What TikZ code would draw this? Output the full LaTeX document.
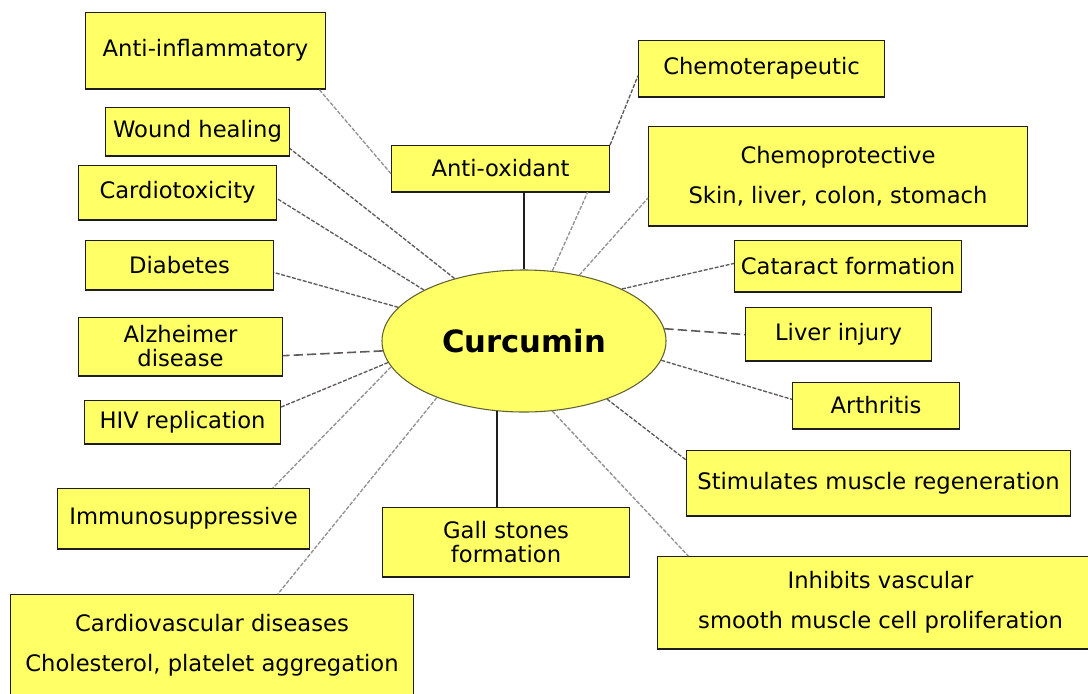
\documentclass[tikz,border=0pt]{standalone}
\usepackage{fontspec}
\setmainfont{DejaVu Sans}
\usetikzlibrary{shapes.geometric,calc}
\definecolor{boxfill}{RGB}{255,255,102}
\definecolor{edgec}{RGB}{30,30,30}
\definecolor{lnkdark}{RGB}{95,90,90}
\definecolor{lnklight}{RGB}{150,145,145}
\begin{document}
\begin{tikzpicture}[x=0.75pt,y=-0.75pt,
  box/.style={draw=edgec, line width=0.8pt, fill=boxfill, anchor=north west, inner sep=0pt, align=center, font=\fontsize{17}{18}\selectfont},
  wh/.style 2 args={minimum width=#1*0.75pt, minimum height=#2*0.75pt},
  link/.style={draw=lnkdark, line width=1pt, dash pattern=on 3pt off 1.2pt},
  lightlink/.style={draw=lnklight, line width=1pt, dash pattern=on 3pt off 1.2pt},
  longlink/.style={draw=lnkdark, line width=1.2pt, dash pattern=on 7pt off 3pt},
  solidlink/.style={draw=edgec, line width=1.2pt}]
\clip (0,0) rectangle (1088,693);
\fill[white] (0,0) rectangle (1088,693);

\node[draw=edgec!70!boxfill, line width=0.8pt, fill=boxfill, ellipse, minimum width=284*0.75pt, minimum height=142*0.75pt, inner sep=0pt, font=\bfseries\fontsize{23}{26}\selectfont] (cur) at (524,341) {Curcumin};

\node[box, wh={240}{76}] (ain) at (85,12) {Anti-inflammatory};
\node[box, wh={246}{56}] (chem) at (638,40) {Chemoterapeutic};
\node[box, wh={184}{48}] (wnd) at (105,107) {Wound healing};
\node[box, wh={218}{46}] (aox) at (391,145) {Anti-oxidant};
\node[box, wh={379}{99}] (chp) at (648,126) {Chemoprotective\\[12pt]Skin, liver, colon, stomach};
\node[box, wh={198}{54}] (ctx) at (78,165) {Cardiotoxicity};
\node[box, wh={227}{51}] (cat) at (734,240) {Cataract formation};
\node[box, wh={188}{49}] (dia) at (85,240) {Diabetes};
\node[box, wh={204}{58}] (alz) at (78,317) {Alzheimer\\disease};
\node[box, wh={186}{53}] (liv) at (745,307) {Liver injury};
\node[box, wh={196}{43}] (hiv) at (84,400) {HIV replication};
\node[box, wh={167}{46}] (art) at (792,382) {Arthritis};
\node[box, wh={384}{65}] (stim) at (686,450) {Stimulates muscle regeneration};
\node[box, wh={252}{60}] (imm) at (57,488) {Immunosuppressive};
\node[box, wh={247}{69}] (gall) at (382,507) {Gall stones\\formation};
\node[box, wh={446}{92}] (inh) at (657,556) {Inhibits vascular\\[12pt]smooth muscle cell proliferation};
\node[box, wh={403}{102}] (cvd) at (10,594) {Cardiovascular diseases\\[12pt]Cholesterol, platelet aggregation};

\foreach \n in {ain,chem,wnd,aox,chp,ctx,cat,dia,alz,liv,hiv,art,stim,imm,gall,inh,cvd}
  \draw[edgec, line width=2pt] (\n.south west) -- (\n.south east);

\draw[solidlink] (cur.north) -- (cur.north |- aox.south);
\draw[lightlink] (cur.68) -- ($(aox.south west)!0.898!(aox.south east)$);
\draw[lightlink] ($(aox.north west)!0.61!(aox.south west)$) -- ($(ain.south west)!0.97!(ain.south east)$);
\draw[link] (aox.north east) -- ($(chem.north west)!0.625!(chem.south west)$);
\draw[lightlink] (cur.50) -- ($(chp.north west)!0.72!(chp.south west)$);
\draw[link] (cur.28) -- ($(cat.north west)!0.45!(cat.south west)$);
\draw[longlink] (cur.5) -- ($(liv.north west)!0.51!(liv.south west)$);
\draw[link] (cur.352) -- ($(art.north west)!0.37!(art.south west)$);
\draw[link] (cur.325) -- ($(stim.north west)!0.15!(stim.south west)$);
\draw[lightlink] (cur.292) -- ($(inh.north west)!0.07!(inh.north east)$);
\draw[solidlink] (cur.249) -- (cur.249 |- gall.north);
\draw[lightlink] (cur.213) -- ($(cvd.north west)!0.663!(cvd.north east)$);
\draw[lightlink] (cur.191) -- ($(imm.north west)!0.853!(imm.north east)$);
\draw[link] (cur.189) -- ($(hiv.north east)!0.16!(hiv.south east)$);
\draw[longlink] (cur.184) -- ($(alz.north east)!0.655!(alz.south east)$);
\draw[link] (cur.165) -- ($(dia.north east)!0.65!(dia.south east)$);
\draw[link] (cur.153) -- ($(ctx.north east)!0.61!(ctx.south east)$);
\draw[link] (cur.138) -- ($(wnd.north east)!0.85!(wnd.south east)$);
\end{tikzpicture}
\end{document}
